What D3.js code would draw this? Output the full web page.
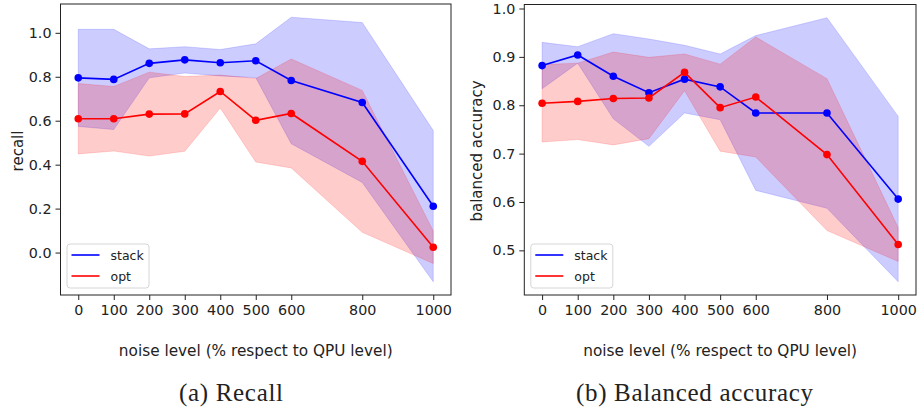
<!DOCTYPE html>
<html>
<head>
<meta charset="utf-8">
<script src="https://cdn.jsdelivr.net/npm/d3@7"></script>
<style>
 body { margin: 0; background: #fff; }
 svg text { font-family: 'DejaVu Sans', sans-serif; fill: #222; }
 .caption { font-family: 'Liberation Serif', serif; }
</style>
</head>
<body>
<svg id="fig" width="918" height="411"></svg>
<script>

// Data. Bands are mean +/- std.

var noise = [0, 100, 200, 300, 400, 500, 600, 800, 1000];

var recallStack    = [0.795, 0.788, 0.861, 0.877, 0.864, 0.873, 0.783, 0.683, 0.211];
var recallStackStd = [0.221, 0.228, 0.066, 0.060, 0.060, 0.077, 0.288, 0.364, 0.344];
var recallOpt      = [0.609, 0.609, 0.630, 0.631, 0.733, 0.602, 0.633, 0.415, 0.024];
var recallOptStd   = [0.160, 0.147, 0.191, 0.170, 0.075, 0.190, 0.248, 0.323, 0.074];

var accStack    = [0.882, 0.904, 0.860, 0.826, 0.854, 0.838, 0.784, 0.784, 0.606];
var accStackStd = [0.048, 0.017, 0.088, 0.111, 0.070, 0.068, 0.160, 0.197, 0.171];
var accOpt      = [0.804, 0.808, 0.814, 0.815, 0.868, 0.795, 0.817, 0.698, 0.512];
var accOptStd   = [0.080, 0.079, 0.096, 0.084, 0.038, 0.090, 0.124, 0.157, 0.035];

var recallTicks = [0.0, 0.2, 0.4, 0.6, 0.8, 1.0];
var accTicks = [0.5, 0.6, 0.7, 0.8, 0.9, 1.0];

var seriesNames = ['stack', 'opt'];
var seriesColors = ['#0000ff', '#ff0000'];

var xLabel = 'noise level (% respect to QPU level)';

var svg = d3.select('#fig');

// Build one panel: bands, lines, dots, axes, legend, labels.

function panel(p) {
 var g = svg.append('g');

 var series = [
  {name: seriesNames[0], color: seriesColors[0], mean: p.stack, std: p.stackStd},
  {name: seriesNames[1], color: seriesColors[1], mean: p.opt, std: p.optStd}
 ];

 // matplotlib style 5% margins
 var lo = d3.min(series, function(s) { return d3.min(s.mean, function(m, i) { return m - s.std[i]; }); });
 var hi = d3.max(series, function(s) { return d3.max(s.mean, function(m, i) { return m + s.std[i]; }); });
 var pad = (hi - lo) * 0.05;

 var x = d3.scaleLinear().domain([-50, 1050]).range([p.left, p.right]);
 var y = d3.scaleLinear().domain([lo - pad, hi + pad]).range([p.bottom, p.top]);

 var area = d3.area()
  .x(function(d) { return x(d.x); })
  .y0(function(d) { return y(d.m - d.s); })
  .y1(function(d) { return y(d.m + d.s); });

 var line = d3.line()
  .x(function(d) { return x(d.x); })
  .y(function(d) { return y(d.m); });

 series.forEach(function(s) {
  s.pts = noise.map(function(n, i) { return {x: n, m: s.mean[i], s: s.std[i]}; });
 });

 series.forEach(function(s) {
  g.append('path')
   .datum(s.pts)
   .attr('d', area)
   .attr('fill', s.color)
   .attr('fill-opacity', 0.2)
   .attr('stroke', s.color)
   .attr('stroke-opacity', 0.15)
   .attr('stroke-width', 1);
 });

 series.forEach(function(s) {
  g.append('path')
   .datum(s.pts)
   .attr('d', line)
   .attr('fill', 'none')
   .attr('stroke', s.color)
   .attr('stroke-width', 1.6);
  g.append('g').selectAll('circle')
   .data(s.pts)
   .enter().append('circle')
   .attr('cx', function(d) { return x(d.x); })
   .attr('cy', function(d) { return y(d.m); })
   .attr('r', 3.8)
   .attr('fill', s.color);
 });

 // axes
 var ax = g.append('g')
  .attr('transform', 'translate(0,' + p.bottom + ')')
  .call(d3.axisBottom(x).tickValues(noise).tickFormat(d3.format('d')).tickSize(5).tickPadding(5).tickSizeOuter(0));
 var ay = g.append('g')
  .attr('transform', 'translate(' + p.left + ',0)')
  .call(d3.axisLeft(y).tickValues(p.ticks).tickFormat(d3.format('.1f')).tickSize(5).tickPadding(4).tickSizeOuter(0));
 [ax, ay].forEach(function(a) {
  a.select('.domain').remove();
  a.selectAll('line').attr('stroke', '#222');
  a.selectAll('text').attr('font-size', 14.3).attr('font-family', 'DejaVu Sans').attr('fill', '#222');
 });

 g.append('rect')
  .attr('x', p.left).attr('y', p.top)
  .attr('width', p.right - p.left).attr('height', p.bottom - p.top)
  .attr('fill', 'none').attr('stroke', '#222').attr('stroke-width', 1);

 // legend
 var lg = g.append('g');
 lg.append('rect')
  .attr('x', p.left + 6.5).attr('y', 244)
  .attr('width', 82).attr('height', 44)
  .attr('rx', 3)
  .attr('fill', '#fff').attr('fill-opacity', 0.8)
  .attr('stroke', '#d6d6d6');
 series.forEach(function(s, i) {
  var ly = 255 + i * 21;
  lg.append('line')
   .attr('x1', p.left + 11).attr('x2', p.left + 39)
   .attr('y1', ly).attr('y2', ly)
   .attr('stroke', s.color).attr('stroke-width', 1.6);
  lg.append('text')
   .attr('x', p.left + 50).attr('y', ly + 5)
   .attr('font-size', 12.5)
   .text(s.name);
 });

 // labels
 g.append('text')
  .attr('x', (p.left + p.right) / 2).attr('y', 355.5)
  .attr('text-anchor', 'middle')
  .attr('font-size', 15.3)
  .text(xLabel);

 g.append('text')
  .attr('transform', 'translate(' + p.yLabelX + ',151) rotate(-90)')
  .attr('text-anchor', 'middle')
  .attr('font-size', 15)
  .text(p.yLabel);

 g.append('text')
  .attr('class', 'caption')
  .attr('x', p.capX).attr('y', 401)
  .attr('text-anchor', 'middle')
  .attr('font-size', 25)
  .attr('textLength', p.capW)
  .attr('lengthAdjust', 'spacing')
  .text(p.caption);
}

panel({
 left: 60.5, right: 451, top: 4, bottom: 295,
 stack: recallStack, stackStd: recallStackStd, opt: recallOpt, optStd: recallOptStd,
 ticks: recallTicks, yLabel: 'recall', yLabelX: 22.5,
 caption: '(a) Recall', capX: 231, capW: 104
});

panel({
 left: 524.3, right: 916, top: 4.5, bottom: 295,
 stack: accStack, stackStd: accStackStd, opt: accOpt, optStd: accOptStd,
 ticks: accTicks, yLabel: 'balanced accuracy', yLabelX: 481.5,
 caption: '(b) Balanced accuracy', capX: 694.5, capW: 237
});

</script>
</body>
</html>
